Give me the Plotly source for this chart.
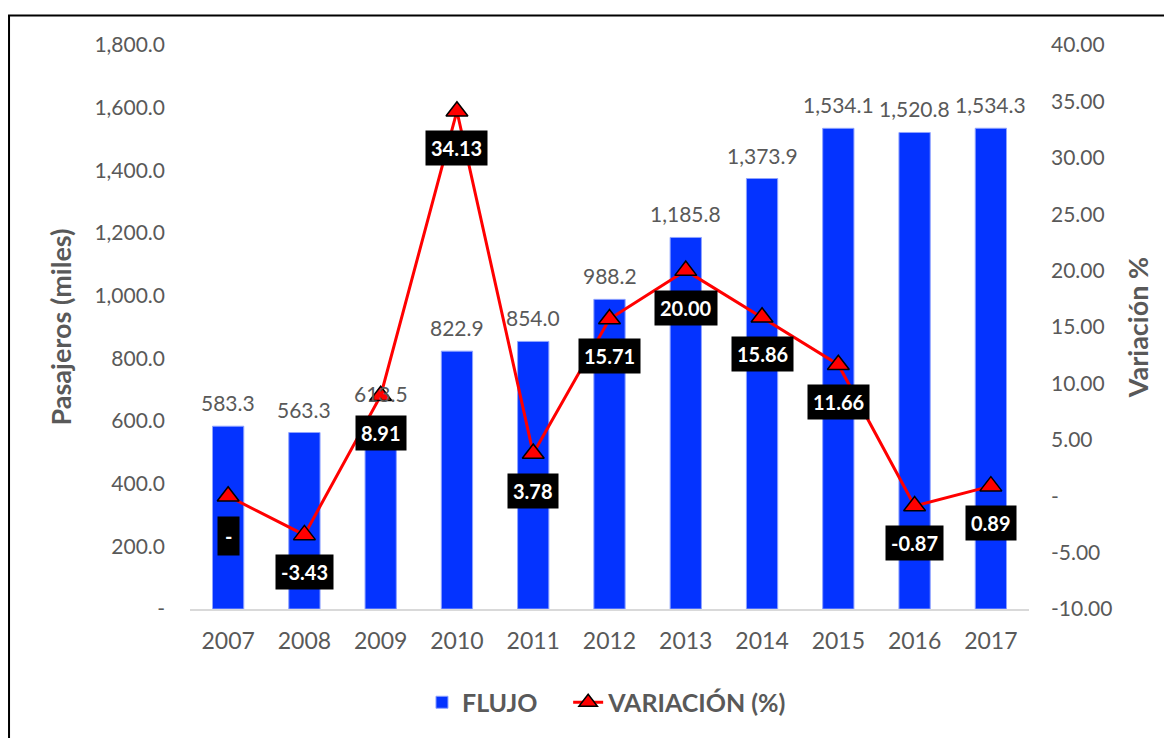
import plotly.graph_objects as go

years = [2007, 2008, 2009, 2010, 2011, 2012, 2013, 2014, 2015, 2016, 2017]
flujo = [583.3, 563.3, 613.5, 822.9, 854.0, 988.2, 1185.8, 1373.9, 1534.1, 1520.8, 1534.3]
variacion = [0.0, -3.43, 8.91, 34.13, 3.78, 15.71, 20.00, 15.86, 11.66, -0.87, 0.89]
var_labels = ["-", "-3.43", "8.91", "34.13", "3.78", "15.71", "20.00", "15.86", "11.66", "-0.87", "0.89"]

left_ticks = [0, 200, 400, 600, 800, 1000, 1200, 1400, 1600, 1800]
left_text = ["-", "200.0", "400.0", "600.0", "800.0", "1,000.0", "1,200.0", "1,400.0", "1,600.0", "1,800.0"]
right_ticks = [-10, -5, 0, 5, 10, 15, 20, 25, 30, 35, 40]
right_text = ["-10.00", "-5.00", "-", "5.00", "10.00", "15.00", "20.00", "25.00", "30.00", "35.00", "40.00"]

gray = "#595959"
font = "Lato, Calibri, sans-serif"

fig = go.Figure()
fig.add_trace(go.Bar(
    x=years, y=flujo, name="<b>FLUJO</b>&nbsp;&nbsp;&nbsp;&nbsp;",
    marker=dict(color="#0433FF", line=dict(color="#8FA3FF", width=1)),
    width=0.41,
))
fig.add_trace(go.Scatter(
    x=years, y=variacion, name="<b>VARIACIÓN (%)</b>", yaxis="y2",
    mode="lines+markers",
    line=dict(color="#FF0000", width=3),
    marker=dict(symbol="triangle-up", size=19, color="#FF0000",
                line=dict(color="black", width=1.5)),
    cliponaxis=False,
))

# bar value labels
for yr, v in zip(years, flujo):
    fig.add_annotation(
        x=yr, y=v, xref="x", yref="y", text="{:,.1f}".format(v),
        showarrow=False, yanchor="bottom", yshift=9,
        font=dict(color=gray, size=21, family=font),
    )

# variation labels (black boxes)
for yr, v, t in zip(years, variacion, var_labels):
    fig.add_annotation(
        x=yr, y=v, xref="x", yref="y2", text="<b>" + t + "</b>",
        showarrow=False, yshift=-37 if t != "-" else -40,
        bgcolor="black", borderpad=5 if t != "-" else 7,
        font=dict(color="white", size=20, family=font),
    )

# outer frame (page is offset 8px by body margin)
fig.add_shape(type="rect", xref="paper", yref="paper",
              x0=-0.2157, x1=1.3, y0=-0.4, y1=1.0524,
              line=dict(color="black", width=2), layer="below")

fig.update_layout(
    width=1164, height=730,
    margin=dict(l=182, r=143, t=37, b=121),
    plot_bgcolor="white", paper_bgcolor="white",
    font=dict(family=font, color=gray, size=18),
    showlegend=True,
    legend=dict(orientation="h", x=0.497, xanchor="center", y=-0.125, yanchor="top",
                font=dict(size=25, color=gray, family=font), traceorder="normal"),
    xaxis=dict(range=[2006.5, 2017.5], tickmode="array", tickvals=years,
               showgrid=False, showline=True, linecolor="#D9D9D9", linewidth=2,
               ticks="", ticklabelstandoff=10, tickfont=dict(size=23, color=gray)),
    yaxis=dict(range=[0, 1800], tickvals=left_ticks, ticktext=left_text,
               showgrid=False, zeroline=False, ticks="", ticklabelstandoff=24,
               tickfont=dict(size=21, color=gray),
               title=dict(text="<b>Pasajeros (miles)</b>", font=dict(size=27, color=gray), standoff=14)),
    yaxis2=dict(range=[-10, 40], tickvals=right_ticks, ticktext=right_text,
                overlaying="y", side="right", showgrid=False, zeroline=False,
                ticks="", ticklabelstandoff=21, tickfont=dict(size=21, color=gray),
                title=dict(text="<b>Variación %</b>", font=dict(size=27, color=gray), standoff=17)),
)

fig.write_html("out.html")
